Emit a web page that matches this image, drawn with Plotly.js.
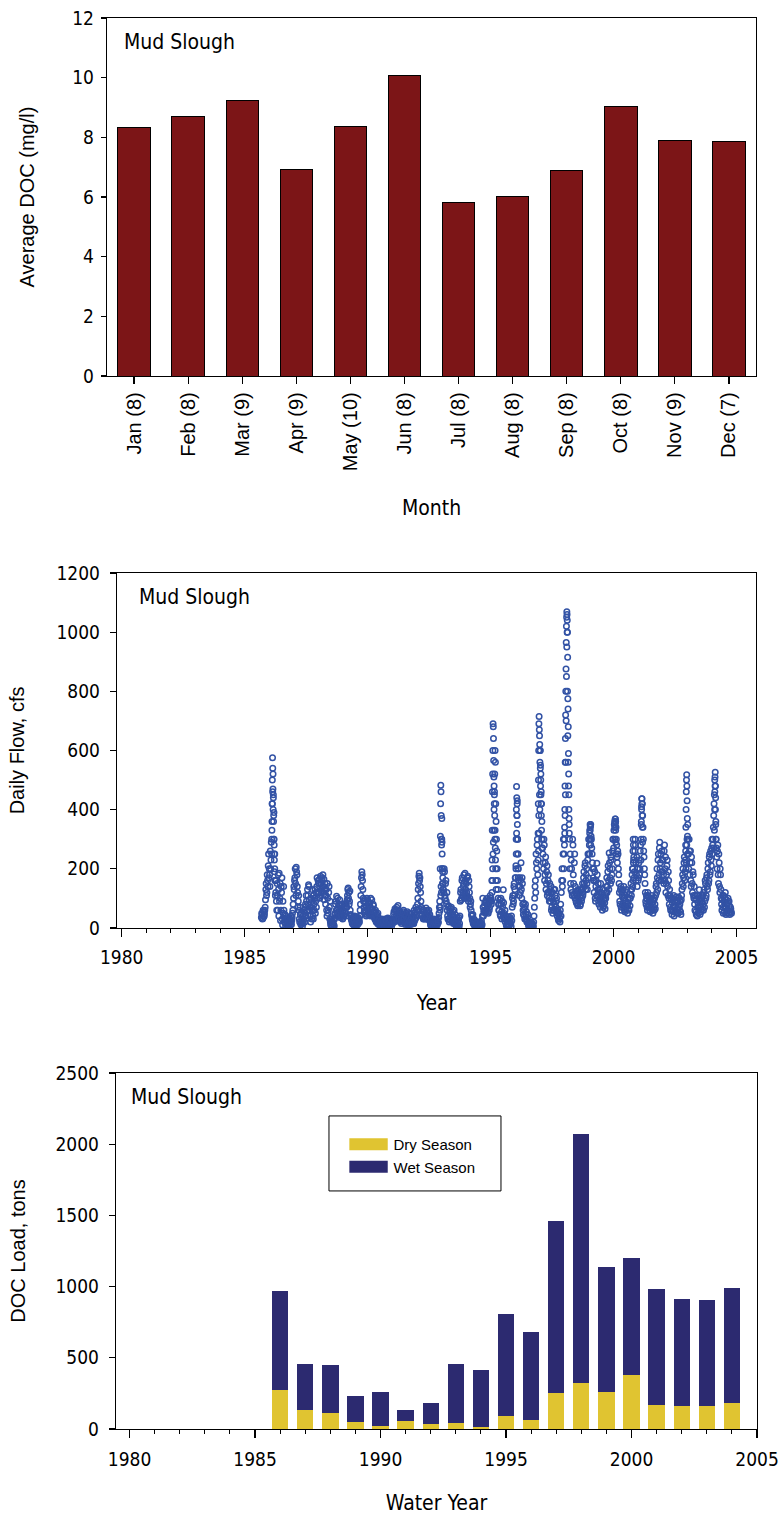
<!DOCTYPE html>
<html><head><meta charset="utf-8">
<script src="https://cdn.plot.ly/plotly-3.0.1.min.js"></script>
<style>html,body{margin:0;padding:0;background:#fff;} #chart{width:779px;height:1515px;}</style>
</head><body><div id="chart"></div>
<script>
// ---------- Panel 1: average DOC by month ----------
const monthLabels = ['Jan (8)','Feb (8)','Mar (9)','Apr (9)','May (10)','Jun (8)','Jul (8)','Aug (8)','Sep (8)','Oct (8)','Nov (9)','Dec (7)'];
const avgDOC = [8.34, 8.69, 9.25, 6.91, 8.36, 10.07, 5.80, 6.02, 6.88, 9.05, 7.91, 7.87];

// ---------- Panel 2: daily flow, read at ~5-day steps (A and B readings, 36 each per calendar year) ----------
const flow1985 = [35,45,32,55,40,60,95,150,120,160,210,170]; // starts at step 24
const flow1986 = [180,260,230,300,420,520,380,250,160,120,90,150,60,130,185,100,25,140,170,10,50,60,30,15,40,20,10,25,8,15,30,20,12,35,60,100];
const flow1987 = [130,170,150,205,180,120,90,60,20,45,10,30,5,15,30,50,70,40,90,60,110,146,95,40,20,70,130,60,30,80,100,50,120,140,100,160];
const flow1988 = [120,165,110,150,130,170,180,140,95,150,80,130,40,100,60,140,30,20,8,25,5,15,10,30,50,90,107,60,40,80,55,35,75,45,80,30];
const flow1989 = [60,40,75,50,85,70,110,135,120,90,60,40,25,15,35,10,30,20,12,38,18,28,15,30,40,80,140,190,160,100,70,90,50,75,45,95];
const flow1990 = [60,85,45,70,100,50,65,40,75,50,30,60,20,45,15,35,25,10,20,8,30,12,5,25,15,30,8,20,12,34,6,18,25,10,15,22];
const flow1991 = [15,30,55,25,60,40,70,35,76,50,30,20,45,15,40,25,60,20,35,15,50,25,40,10,30,18,45,12,25,20,35,15,50,30,70,45];
const flow1992 = [60,100,150,185,170,120,70,40,60,30,55,35,50,67,30,55,40,60,35,20,8,25,5,15,30,10,20,5,25,12,30,18,50,90,70,140];
const flow1993 = [300,200,150,120,190,100,160,80,60,30,75,20,50,35,70,25,45,15,60,30,10,30,5,20,2,35,15,90,130,100,170,120,150,100,185,130];
const flow1994 = [150,110,175,90,140,100,80,60,40,25,15,30,8,20,3,12,5,18,8,2,15,5,25,10,100,40,60,85,55,95,65,75,50,90,70,110];
const flow1995 = [100,90,160,250,330,450,600,420,300,200,130,80,60,95,40,80,30,70,129,50,35,20,40,10,30,5,25,8,35,15,40,70,110,90,150,130];
const flow1996 = [170,250,380,300,200,140,170,120,220,100,150,60,84,40,70,30,55,25,45,10,3,15,5,18,2,12,4,40,100,160,250,200,300,230,380,450];
const flow1997 = [600,520,420,300,250,200,280,180,240,150,210,120,180,100,150,90,140,70,120,60,130,80,110,55,100,40,60,25,50,20,80,120,200,160,300,250];
const flow1998 = [320,450,700,950,800,560,400,300,250,130,200,110,280,150,220,100,120,85,110,75,125,90,105,80,130,100,150,120,190,140,220,160,200,130,250,300];
const flow1999 = [280,330,350,300,250,200,160,120,190,90,160,219,110,150,80,130,70,120,90,60,110,75,95,65,100,140,120,190,160,253,200,150,230,180,260,300];
const flow2000 = [330,360,368,340,280,220,250,180,120,80,140,60,110,130,70,100,55,90,65,120,50,85,60,100,100,150,130,200,160,240,190,300,220,180,140,200];
const flow2001 = [170,230,200,280,350,437,380,300,240,180,120,80,100,60,110,70,90,55,100,65,85,50,95,60,80,110,150,200,130,250,180,290,220,160,260,190];
const flow2002 = [230,150,280,200,120,180,230,110,160,80,110,60,95,45,100,70,40,90,55,105,65,85,50,100,60,90,45,110,150,200,170,240,190,260,220,300];
const flow2003 = [350,250,300,180,260,140,220,120,180,100,80,110,55,95,40,85,60,129,45,100,70,90,110,60,130,90,150,110,180,130,220,160,250,190,230,270];
const flow2004 = [250,300,380,450,480,350,270,200,280,150,220,120,180,100,60,110,50,90,70,120,45,80,60,100,50,75,55,65,50];

const flowB1985 = [50,30,60,38,48,70,130,110,180,140,250,200];
const flowB1986 = [140,200,290,360,460,440,300,200,110,160,60,110,180,40,90,150,60,120,30,90,140,20,45,5,30,12,35,18,6,22,10,40,25,50,80,140];
const flowB1987 = [160,200,110,190,140,70,110,30,70,15,50,20,40,25,60,20,80,110,55,130,80,140,60,70,100,30,90,40,110,60,130,90,70,170,120,150];
const flowB1988 = [150,100,175,120,160,140,120,165,130,110,110,60,150,50,120,70,90,12,30,4,20,28,6,45,80,60,45,100,70,50,95,60,40,65,35,55];
const flowB1989 = [45,80,55,70,40,95,130,100,80,125,45,30,35,20,12,28,40,15,30,22,10,35,25,20,60,110,170,180,130,90,55,60,85,40,100,70];
const flowB1990 = [90,55,80,40,65,95,45,80,55,35,55,25,40,20,50,12,30,18,10,25,15,28,18,8,22,12,25,5,30,15,20,10,28,14,6,30];
const flowB1991 = [25,45,20,65,35,55,25,60,45,30,55,40,25,50,20,55,30,45,12,40,20,55,15,35,22,50,20,35,15,40,15,60,25,55,35,60];
const flowB1992 = [80,130,175,160,140,90,45,65,35,60,30,50,40,30,60,35,50,28,45,12,28,10,22,6,18,25,8,15,28,10,20,35,70,60,110,120];
const flowB1993 = [250,170,130,200,110,150,90,120,40,70,30,55,25,65,40,20,55,35,25,45,25,8,35,12,28,6,40,120,95,160,110,140,180,120,160,100];
const flowB1994 = [120,170,100,160,120,70,90,45,30,45,20,10,25,6,15,2,10,4,12,6,20,3,15,40,70,55,75,50,90,60,100,55,85,60,95,90];
const flowB1995 = [80,120,200,290,400,520,560,360,260,160,100,60,80,45,100,55,90,45,85,30,60,30,8,25,15,38,10,20,30,5,25,100,80,140,110,170];
const flowB1996 = [210,320,430,250,160,110,140,160,130,170,80,45,65,30,80,45,20,35,15,6,14,2,10,4,16,8,20,70,140,120,220,280,180,260,320,400];
const flowB1997 = [550,460,360,270,220,300,160,220,130,190,110,160,120,90,130,120,60,100,50,90,60,130,70,90,50,55,30,45,35,60,40,160,140,250,200,280];
const flowB1998 = [380,560,850,1000,650,480,350,200,150,230,120,300,180,110,250,140,90,115,80,130,95,120,75,110,90,130,110,170,150,210,130,180,150,230,170,250];
const flowB1999 = [320,345,310,270,220,170,200,160,100,140,110,180,130,90,120,100,150,90,80,130,70,100,85,110,120,170,140,210,130,220,170,240,160,200,300,270];
const flowB2000 = [350,340,360,300,240,260,200,150,90,130,70,120,80,100,140,60,110,75,130,80,100,65,115,75,130,110,180,140,220,170,260,280,160,240,200,160];
const flowB2001 = [220,180,260,230,400,420,340,260,200,150,90,110,70,120,80,100,60,95,70,110,60,90,70,100,65,140,120,170,230,160,270,200,250,190,230,160];
const flowB2002 = [180,260,160,240,150,210,140,190,100,130,70,100,60,85,55,110,75,60,95,50,90,60,105,70,80,55,95,130,180,140,220,160,230,200,280,250];
const flowB2003 = [300,200,260,220,160,240,150,190,110,140,60,95,45,110,70,50,100,75,90,55,110,65,80,120,70,160,100,170,140,200,150,240,180,260,210,300];
const flowB2004 = [280,340,420,500,400,300,240,260,180,250,140,200,130,80,95,70,110,55,100,65,95,50,85,60,90,45,70,55];

// storm peaks: readings every 3 days starting at the given date (decimal year)
const peakStarts = [1986.10, 1992.95, 1995.05, 1996.03, 1996.93, 1998.00, 1999.02, 2000.05, 2000.78, 2001.12, 2002.93, 2004.09];
const peak1986 = [250,330,420,500,575,540,470,400,450,360,300,390,280,230,190,250,160];
const peak1993 = [200,310,420,482,460,380,300,280,370,290,200,150,190,130];
const peak1995 = [160,230,330,460,520,600,690,680,640,566,510,480,420,460,380,300,330,270,230,200,160,130];
const peak1996 = [200,300,400,478,440,380,420,350,300,250,200,170];
const peak1997 = [320,420,500,600,690,715,670,650,620,560,600,540,480,500,450,420,380,330,300,270];
const peak1998 = [300,340,400,480,560,640,720,800,875,965,1020,1050,1069,1060,1040,1000,915,775,740,680,590,520,450,370,320];
const peak1999 = [250,300,330,350,340,300,280];
const peak2000a = [300,340,368,355,330,290,250];
const peak2000b = [200,260,300,280,230];
const peak2001 = [300,360,410,437,420,380,340,290];
const peak2003 = [280,340,400,460,500,518,480,430,370,310];
const peak2004 = [270,330,400,460,510,526,480,440,360,300];

// ---------- Panel 3: DOC load by water year ----------
const waterYears = [1986,1987,1988,1989,1990,1991,1992,1993,1994,1995,1996,1997,1998,1999,2000,2001,2002,2003,2004];
const dryLoad = [274,133,112,49,23,56,37,42,14,94,63,253,323,260,379,169,164,164,183];
const wetLoad = [695,321,337,185,234,75,143,412,400,714,616,1208,1749,875,824,812,751,742,807];

// ---------- build flow series ----------
const yearSeries = [[1985,flow1985,flowB1985,24],[1986,flow1986,flowB1986,0],[1987,flow1987,flowB1987,0],[1988,flow1988,flowB1988,0],
  [1989,flow1989,flowB1989,0],[1990,flow1990,flowB1990,0],[1991,flow1991,flowB1991,0],[1992,flow1992,flowB1992,0],[1993,flow1993,flowB1993,0],
  [1994,flow1994,flowB1994,0],[1995,flow1995,flowB1995,0],[1996,flow1996,flowB1996,0],[1997,flow1997,flowB1997,0],[1998,flow1998,flowB1998,0],
  [1999,flow1999,flowB1999,0],[2000,flow2000,flowB2000,0],[2001,flow2001,flowB2001,0],[2002,flow2002,flowB2002,0],[2003,flow2003,flowB2003,0],
  [2004,flow2004,flowB2004,0]];
const peakSeries = [peak1986,peak1993,peak1995,peak1996,peak1997,peak1998,peak1999,peak2000a,peak2000b,peak2001,peak2003,peak2004];
const fx = [], fy = [];
yearSeries.forEach(([yr, a, b, off]) => {
  a.forEach((v, i) => { fx.push(yr + (off + i + 0.5) / 36); fy.push(v); });
  b.forEach((v, i) => { fx.push(yr + (off + i + 1.0) / 36); fy.push(v); });
});
peakSeries.forEach((arr, k) => arr.forEach((v, i) => { fx.push(peakStarts[k] + i * 3 / 365.25); fy.push(v); }));

const COND = "'DejaVu Sans Condensed','Arial Narrow',sans-serif";
const ARIAL = "'Liberation Sans',Arial,Helvetica,sans-serif";

const traces = [
  {type:'bar', x:monthLabels, y:avgDOC, xaxis:'x', yaxis:'y', showlegend:false,
   marker:{color:'#7C1517', line:{color:'#000', width:1}}},
  {type:'scatter', mode:'markers', x:fx, y:fy, xaxis:'x2', yaxis:'y2', showlegend:false,
   marker:{symbol:'circle-open', size:5.5, color:'#3252A5', line:{width:1.5}}},
  {type:'bar', name:'Dry Season', x:waterYears, y:dryLoad, xaxis:'x3', yaxis:'y3', width:0.65,
   marker:{color:'#E0C431', line:{width:0}}},
  {type:'bar', name:'Wet Season', x:waterYears, y:wetLoad, xaxis:'x3', yaxis:'y3', width:0.65,
   marker:{color:'#2C2A70', line:{width:0}}}
];

const base = {showline:true, linecolor:'#000', linewidth:1.3, mirror:true, ticks:'outside', tickcolor:'#000', tickwidth:1.2,
  showgrid:false, zeroline:false, tickfont:{family:COND, size:19, color:'#000'}};
const yearMinor = {dtick:1, tick0:1980, ticks:'outside', ticklen:4, tickcolor:'#000', tickwidth:1};

const layout = {
  width:779, height:1515, margin:{l:0,r:0,t:0,b:0}, paper_bgcolor:'#fff', plot_bgcolor:'#fff',
  barmode:'stack', bargap:0.4, showlegend:true,
  xaxis: Object.assign({}, base, {domain:[0.1374,0.9705], anchor:'y', type:'category', range:[-0.5,11.5], tickangle:-90, ticklen:7,
    tickfont:{family:ARIAL, size:20, color:'#000'},
    title:{text:'Month', font:{family:COND, size:21, color:'#000'}, standoff:30}}),
  yaxis: Object.assign({}, base, {domain:[0.7518,0.9881], anchor:'x', range:[0,12], dtick:2, ticklen:5, ticklabelstandoff:3,
    title:{text:'Average DOC (mg/l)', font:{family:ARIAL, size:20, color:'#000'}, standoff:32}}),
  xaxis2: Object.assign({}, base, {domain:[0.1502,0.9705], anchor:'y2', range:[1979.81,2005.79], tick0:1980, dtick:5, ticklen:8, minor:yearMinor,
    ticklabelstandoff:4,
    title:{text:'Year', font:{family:COND, size:21, color:'#000'}, standoff:28}}),
  yaxis2: Object.assign({}, base, {domain:[0.3875,0.6218], anchor:'x2', range:[0,1200], dtick:200, ticklen:6, ticklabelstandoff:6,
    title:{text:'Daily Flow, cfs', font:{family:ARIAL, size:20, color:'#000'}, standoff:26}}),
  xaxis3: Object.assign({}, base, {domain:[0.1489,0.9718], anchor:'y3', range:[1979.46,2005], tick0:1980, dtick:5, ticklen:8, minor:yearMinor,
    ticklabelstandoff:5,
    title:{text:'Water Year', font:{family:COND, size:21, color:'#000'}, standoff:26}}),
  yaxis3: Object.assign({}, base, {domain:[0.0568,0.2917], anchor:'x3', range:[0,2500], dtick:500, ticklen:6, ticklabelstandoff:6,
    title:{text:'DOC Load, tons', font:{family:ARIAL, size:20, color:'#000'}, standoff:24}}),
  legend:{x:0.441, y:0.2555, xanchor:'left', yanchor:'top', bgcolor:'rgba(0,0,0,0)', borderwidth:0,
    font:{family:ARIAL, size:15, color:'#000'}, itemwidth:40, traceorder:'normal', tracegroupgap:0},
  shapes:[{type:'rect', xref:'paper', yref:'paper', x0:0.4223, x1:0.6431, y0:0.2139, y1:0.2634, line:{color:'#000', width:1}, fillcolor:'rgba(0,0,0,0)'}],
  annotations:[
    {text:'Mud Slough', xref:'paper', yref:'paper', x:0.1566, y:0.9723, xanchor:'left', yanchor:'middle', showarrow:false, font:{family:COND, size:21, color:'#000'}},
    {text:'Mud Slough', xref:'paper', yref:'paper', x:0.1759, y:0.6059, xanchor:'left', yanchor:'middle', showarrow:false, font:{family:COND, size:21, color:'#000'}},
    {text:'Mud Slough', xref:'paper', yref:'paper', x:0.1656, y:0.2759, xanchor:'left', yanchor:'middle', showarrow:false, font:{family:COND, size:21, color:'#000'}}
  ]
};

Plotly.newPlot('chart', traces, layout, {staticPlot:true, displayModeBar:false}).then(() => {
  document.querySelectorAll('.legend .legendpoints path').forEach(p => {
    const t = p.getAttribute('transform') || '';
    p.setAttribute('transform', t + ' scale(3.2,1)');
  });
});
</script>
</body></html>
